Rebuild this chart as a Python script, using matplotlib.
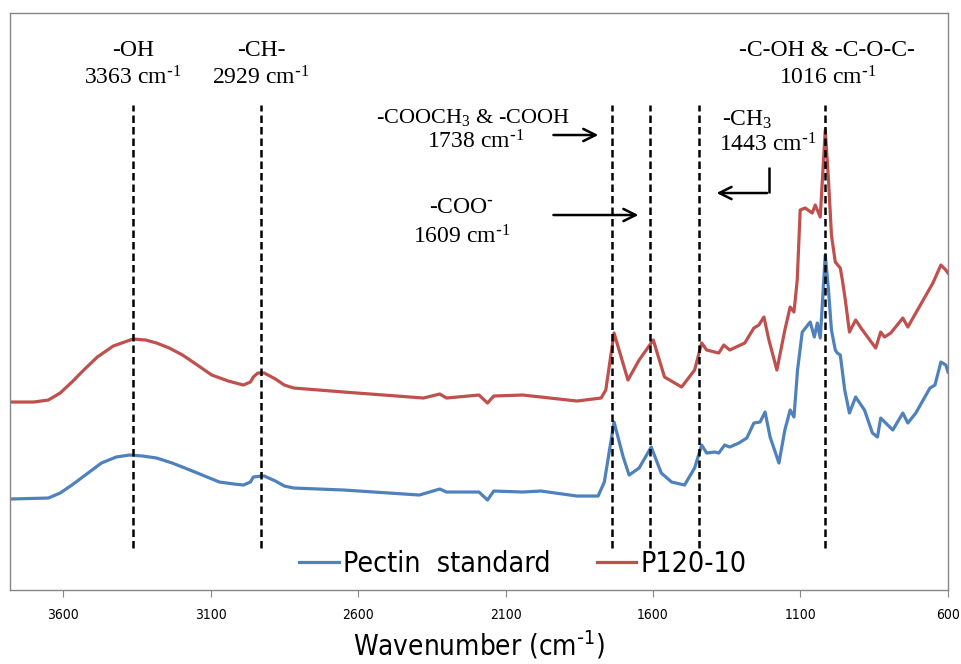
# ИК-спектры пектина: стандарт и образец P120-10
import matplotlib
matplotlib.use("Agg")
import matplotlib.pyplot as plt
import numpy as np

plt.rcParams['mathtext.default'] = 'regular'

# волновые числа (см-1) и условная интенсивность
wn_blue = [3780, 3650, 3610, 3570, 3520, 3470, 3420, 3375, 3330, 3283, 3230, 3170,
           3120, 3070, 3020, 2989, 2965, 2955, 2929, 2918, 2880, 2850,
           2818, 2648, 2392, 2323, 2300, 2190, 2161, 2140, 2042, 1980, 1858, 1786,
           1765, 1732, 1701, 1681, 1647, 1606, 1572, 1537, 1493, 1459, 1435, 1418,
           1391, 1377, 1357, 1340, 1309, 1282, 1258, 1237, 1220, 1203, 1173, 1153,
           1135, 1122, 1110, 1094, 1067, 1053, 1043, 1033, 1025, 1016, 1005, 995,
           982, 975, 965, 950, 934, 913, 883, 856, 839, 828, 811, 787, 753, 736,
           709, 661, 644, 624, 607, 600]
py_blue = [499, 498, 493, 485, 474, 463, 457, 455, 456, 458, 463, 470,
           476, 482, 484, 485, 482, 477, 476, 476, 481, 486,
           488, 490, 495, 489, 492, 492, 500, 491, 492, 491, 496, 496,
           482, 422, 457, 475, 468, 447, 473, 482, 485, 468, 445, 453,
           452, 453, 445, 447, 443, 438, 423, 422, 412, 437, 463, 430,
           410, 417, 370, 332, 322, 337, 323, 338, 300, 255, 290, 330,
           350, 353, 355, 390, 413, 397, 410, 433, 437, 418, 423, 430, 413, 423,
           413, 388, 385, 362, 365, 372]

wn_red = [3780, 3700, 3650, 3610, 3570, 3530, 3484, 3430, 3363, 3320, 3283, 3240,
          3195, 3150, 3096, 3040, 2989, 2965, 2955, 2940, 2918, 2880, 2850, 2818,
          2648, 2378, 2323, 2300, 2190, 2161, 2140, 2042, 1980, 1858, 1776, 1760,
          1732, 1685, 1647, 1599, 1561, 1503, 1459, 1435, 1418, 1377, 1360, 1340,
          1289, 1258, 1241, 1224, 1207, 1180, 1153, 1135, 1122, 1111, 1101, 1084,
          1060, 1050, 1033, 1016, 1005, 995, 982, 965, 958, 948, 934, 913, 890,
          845, 828, 815, 794, 753, 736, 709, 651, 624, 607, 600]
py_red = [402, 402, 400, 393, 382, 370, 357, 346, 339, 340, 343, 348,
          355, 364, 375, 381, 385, 382, 377, 373, 373, 379, 385, 388,
          392, 398, 394, 398, 395, 403, 396, 395, 397, 401, 398, 390,
          333, 380, 360, 340, 377, 387, 370, 343, 350, 353, 345, 350,
          343, 328, 325, 317, 340, 370, 330, 307, 312, 280, 210, 208,
          213, 205, 217, 130, 180, 235, 262, 268, 280, 300, 332, 320, 330,
          348, 332, 337, 333, 318, 327, 313, 283, 265, 270, 273]

y_blue = (590 - np.array(py_blue)) / 10
y_red = (590 - np.array(py_red)) / 10

peaks = [3363, 2929, 1738, 1609, 1443, 1016]
xticks = [3600, 3100, 2600, 2100, 1600, 1100, 600]

serif = 'Liberation Serif'
narrow = dict(family='DejaVu Sans', stretch='condensed')

fig = plt.figure(figsize=(9.62, 6.64), dpi=100)
ax = fig.add_axes([0.0104, 0.1114, 0.975, 0.869])

ax.plot(wn_blue, y_blue, color='#4F81BD', lw=2.3, label='Pectin  standard')
ax.plot(wn_red, y_red, color='#C0504D', lw=2.3, label='P120-10')

ax.vlines(peaks, 4.2, 48.5, colors='black', linestyles=(0, (3, 1.6)), lw=1.8)

# подписи пиков
fs = 17
sup = r' cm$^{\text{-}1}$'
ax.text(3363, 54.0, '-OH', ha='center', va='center', family=serif, fontsize=fs)
ax.text(3363, 51.2, '3363' + sup, ha='center', va='center', family=serif, fontsize=fs)
ax.text(2929, 54.0, '-CH-', ha='center', va='center', family=serif, fontsize=fs)
ax.text(2929, 51.2, '2929' + sup, ha='center', va='center', family=serif, fontsize=fs)
ax.text(2209, 47.3, '-COOCH$_3$ & -COOH', ha='center', va='center', family=serif, fontsize=16)
ax.text(2202, 44.8, '1738' + sup, ha='center', va='center', family=serif, fontsize=fs)
ax.text(2250, 38.3, r'-COO$^{\text{-}}$', ha='center', va='center', family=serif, fontsize=fs)
ax.text(2250, 35.3, '1609' + sup, ha='center', va='center', family=serif, fontsize=fs)
ax.text(1282, 47.0, '-CH$_3$', ha='center', va='center', family=serif, fontsize=fs)
ax.text(1210, 44.5, '1443' + sup, ha='center', va='center', family=serif, fontsize=fs)
ax.text(1009, 54.0, '-C-OH & -C-O-C-', ha='center', va='center', family=serif, fontsize=fs)
ax.text(1009, 51.2, '1016' + sup, ha='center', va='center', family=serif, fontsize=fs)

arr = dict(arrowstyle='->', color='black', lw=1.8, mutation_scale=22)
ax.annotate('', xy=(1776, 45.5), xytext=(1947, 45.5), arrowprops=arr)
ax.annotate('', xy=(1640, 37.5), xytext=(1947, 37.5), arrowprops=arr)
ax.plot([1207, 1207], [42.3, 39.7], color='black', lw=1.8, solid_capstyle='butt')
ax.annotate('', xy=(1394, 39.7), xytext=(1204, 39.7), arrowprops=arr)

ax.set_xlim(3780, 600)
ax.set_ylim(0, 57.7)
ax.set_yticks([])
ax.set_xticks(xticks)
ax.set_xticklabels([str(t) for t in xticks], fontsize=10, **narrow)
ax.tick_params(axis='x', direction='out', length=5, color='#868686', pad=8)
for s in ax.spines.values():
    s.set_color('#868686')
    s.set_linewidth(1)

ax.set_xlabel(r'Wavenumber (cm$^{\text{-}1}$)', fontsize=20, labelpad=5, **narrow)

leg = ax.legend(loc='center', bbox_to_anchor=(0.547, 0.045), ncol=2, frameon=False,
                prop={'family': 'DejaVu Sans', 'stretch': 'condensed', 'size': 20.5},
                handlelength=1.4, handletextpad=0.15, columnspacing=1.6)

fig.savefig('out.png', dpi=100)
